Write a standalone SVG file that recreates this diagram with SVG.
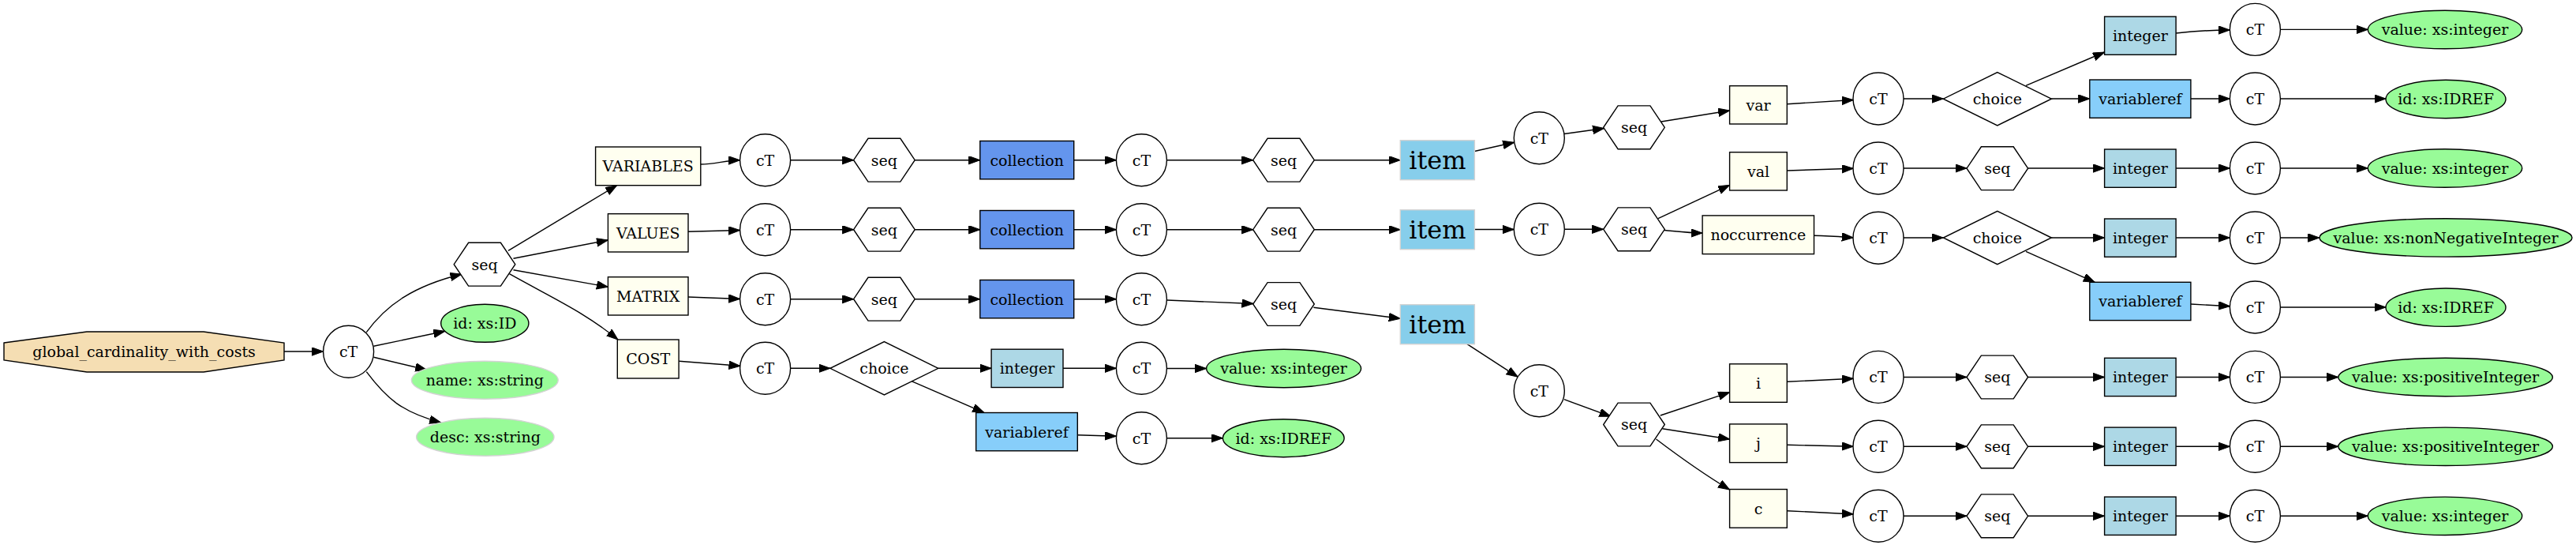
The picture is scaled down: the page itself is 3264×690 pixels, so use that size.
<svg xmlns="http://www.w3.org/2000/svg" xmlns:xlink="http://www.w3.org/1999/xlink" width="3264" height="690" viewBox="0 0 3264 690">
<style>
.sh{stroke:#000;stroke-width:1.4;fill:#fff}
.ct{fill:#fff;stroke:#000;stroke-width:1.4}
.el{fill:#fffff0;stroke:#000;stroke-width:1.4}
.coll{fill:#6495ed;stroke:#000;stroke-width:1.4}
.int{fill:#add8e6;stroke:#000;stroke-width:1.4}
.vref{fill:#87cefa;stroke:#000;stroke-width:1.4}
.item{fill:#87ceeb;stroke:#d3d3d3;stroke-width:1.4}
.att{fill:#98fb98;stroke:#000;stroke-width:1.4}
.att2{fill:#98fb98;stroke:#d3d3d3;stroke-width:1.4}
.root{fill:#f5deb3;stroke:#000;stroke-width:1.4}
text{font-family:"DejaVu Serif","Liberation Serif",serif;font-size:19px;text-anchor:middle;fill:#000}
text.big{font-size:32px}
#edges path{fill:none;stroke:#000;stroke-width:1.4;marker-end:url(#ah)}
</style>
<defs>
<marker id="ah" markerUnits="userSpaceOnUse" markerWidth="16" markerHeight="12" refX="14.5" refY="5.2" orient="auto"><path d="M0,0 L14.5,5.2 L0,10.4 z" fill="#000" stroke="#000" stroke-width="1"/></marker>
<polygon id="hex" points="38.8,0 20.4,-27.4 -20.4,-27.4 -38.8,0 -20.4,27.4 20.4,27.4"/>
<polygon id="dia" points="68.5,0 0,-33.7 -68.5,0 0,33.7"/>
</defs>
<rect width="3264" height="690" fill="#fff"/>

<g id="edges">
<path d="M360,445 L409.6,445"/>
<path d="M464.3,420.7 C490,385 525,362 585,347"/>
<path d="M473.5,438.3 L563.8,419.3"/>
<path d="M473.5,452.3 L540.8,468.3"/>
<path d="M464.3,470.7 C490,505 510,522 558.7,535"/>
<path d="M644,317.3 L781.6,234.7"/>
<path d="M650.5,327.3 L770.4,304"/>
<path d="M650.5,341.7 L770.4,363.3"/>
<path d="M645.4,346.7 C705,380 740,395 783,430"/>
<!-- VARIABLES row -->
<path d="M887.8,208 C905,208 920,203 937.6,202.7"/>
<path d="M1001.6,202.7 L1081.6,202.7"/>
<path d="M1159.2,202.7 L1241.8,202.7"/>
<path d="M1360.7,202.7 L1414.4,202.7"/>
<path d="M1478.4,202.7 L1587.7,202.7"/>
<path d="M1665.3,202.7 L1774.3,202.7"/>
<path d="M1868.4,191.5 L1918.7,180.2"/>
<path d="M1982,169.5 L2032.5,162.5"/>
<path d="M2105,154 L2191.6,140"/>
<path d="M2264.3,131.7 L2348.3,126.5"/>
<path d="M2412,125 L2462.3,125"/>
<path d="M2567,108.3 L2666.6,66"/>
<path d="M2599.3,125 L2647.8,125"/>
<path d="M2757.1,42 C2785,39 2805,38 2825.4,38"/>
<path d="M2889.4,37.4 L3000.3,37.4"/>
<path d="M2775.9,125 L2825.4,125"/>
<path d="M2889.4,125 L3023,125"/>
<!-- VALUES row -->
<path d="M872,293.3 L937.6,291.5"/>
<path d="M1001.6,290.7 L1081.6,290.7"/>
<path d="M1159.2,290.7 L1241.8,290.7"/>
<path d="M1360.7,290.7 L1414.4,290.7"/>
<path d="M1478.4,290.7 L1587.7,290.7"/>
<path d="M1665.3,290.7 L1774.3,290.7"/>
<path d="M1868.4,290.5 L1918.3,290.5"/>
<path d="M1982.3,290.3 L2031.7,290.3"/>
<path d="M2101,276.7 L2191.6,234.3"/>
<path d="M2109,291.5 C2125,293 2140,295 2157.1,295"/>
<path d="M2264.3,216 L2348.3,213.3"/>
<path d="M2412,213 L2492,213"/>
<path d="M2569.6,213 L2666.6,213"/>
<path d="M2757.1,213 L2825.4,213"/>
<path d="M2889.4,213 L3000.3,213"/>
<path d="M2298.5,298.3 C2320,298.5 2335,300 2348.3,301"/>
<path d="M2412,301 L2462.3,301"/>
<path d="M2599.3,301 L2666.6,301"/>
<path d="M2757.1,301 L2825.4,301"/>
<path d="M2889.4,301 L2938.9,301"/>
<path d="M2567,318.3 L2654.3,357.3"/>
<path d="M2775.9,385 L2825.7,387.7"/>
<path d="M2889.4,389 L3023,389"/>
<!-- MATRIX row -->
<path d="M872,376 L937.6,378.5"/>
<path d="M1001.6,378.7 L1081.6,378.7"/>
<path d="M1159.2,378.7 L1241.8,378.7"/>
<path d="M1360.7,378.7 L1414.4,378.7"/>
<path d="M1478.8,380 L1588,384.5"/>
<path d="M1664.4,389.3 L1774.3,403.3"/>
<path d="M1859,435.7 L1923.3,477.3"/>
<path d="M1981.9,505.7 L2041,527.3"/>
<path d="M2103.8,526 L2191.6,496.7"/>
<path d="M2106.4,542.7 L2191.6,556"/>
<path d="M2098.5,556 Q2150,595 2191.6,620"/>
<path d="M2264.3,483.3 L2348.3,479.3"/>
<path d="M2412,477.5 L2492,477.5"/>
<path d="M2569.6,477.5 L2666.6,477.5"/>
<path d="M2757.1,477.5 L2825.4,477.5"/>
<path d="M2889.4,477.5 L2962.8,477.5"/>
<path d="M2264.3,563.3 L2348.3,565.3"/>
<path d="M2412,565.3 L2492,565.3"/>
<path d="M2569.6,565.3 L2666.6,565.3"/>
<path d="M2757.1,565.3 L2825.4,565.3"/>
<path d="M2889.4,565.3 L2962.8,565.3"/>
<path d="M2264.3,646.7 L2348.3,651"/>
<path d="M2412,653.3 L2492,653.3"/>
<path d="M2569.6,653.3 L2666.6,653.3"/>
<path d="M2757.1,653.3 L2825.4,653.3"/>
<path d="M2889.4,653.3 L3000.3,653.3"/>
<!-- COST row -->
<path d="M860.3,457.3 L938,463.3"/>
<path d="M1001.6,466.3 L1052,466.3"/>
<path d="M1188.8,466.3 L1256.1,466.3"/>
<path d="M1347,466.3 L1414.4,466.3"/>
<path d="M1478.4,466.5 L1528.5,466.5"/>
<path d="M1155.1,482.7 L1246.9,522.3"/>
<path d="M1365.3,550.7 L1414.4,552.3"/>
<path d="M1478.4,554.7 L1549.4,554.7"/>
</g>

<g id="n_root"><polygon class="root" points="5,434 110,420 258,420 360,434 360,456 258,471 110,471 5,456"/><text x="182.5" y="452">global_cardinality_with_costs</text></g>
<g id="n_ct0"><ellipse class="ct" cx="441.6" cy="445.3" rx="32" ry="33"/><text x="441.6" y="452">cT</text></g>
<g id="n_seq0"><use href="#hex" xlink:href="#hex" class="sh" x="614" y="334.7"/><text x="614" y="341.5">seq</text></g>
<g id="n_id0"><ellipse class="att" cx="614.3" cy="409.3" rx="55.6" ry="24"/><text x="614.3" y="416">id: xs:ID</text></g>
<g id="n_name0"><ellipse class="att2" cx="614.3" cy="481.3" rx="92.9" ry="24"/><text x="614.3" y="488">name: xs:string</text></g>
<g id="n_desc0"><ellipse class="att2" cx="614.8" cy="553.3" rx="87.2" ry="24"/><text x="614.8" y="560">desc: xs:string</text></g>

<g id="n_variables"><rect class="el" x="754.6" y="186" width="133.2" height="48.7"/><text x="821.2" y="217">VARIABLES</text></g>
<g id="n_values"><rect class="el" x="770.4" y="270.7" width="101.6" height="48.3"/><text x="821.2" y="301.5">VALUES</text></g>
<g id="n_matrix"><rect class="el" x="770.4" y="350.7" width="101.6" height="48.3"/><text x="821.2" y="381.5">MATRIX</text></g>
<g id="n_cost"><rect class="el" x="782.3" y="430" width="77.8" height="49"/><text x="821.2" y="461.3">COST</text></g>

<g id="n_ct_var1"><ellipse class="ct" cx="969.6" cy="202.7" rx="32" ry="33"/><text x="969.6" y="209.5">cT</text></g>
<g id="n_ct_val1"><ellipse class="ct" cx="969.6" cy="290.7" rx="32" ry="33"/><text x="969.6" y="297.5">cT</text></g>
<g id="n_ct_mat1"><ellipse class="ct" cx="969.6" cy="378.7" rx="32" ry="33"/><text x="969.6" y="385.5">cT</text></g>
<g id="n_ct_cost1"><ellipse class="ct" cx="969.6" cy="466.3" rx="32" ry="33"/><text x="969.6" y="473">cT</text></g>

<g id="n_seq_var1"><use href="#hex" xlink:href="#hex" class="sh" x="1120.4" y="202.7"/><text x="1120.4" y="209.5">seq</text></g>
<g id="n_seq_val1"><use href="#hex" xlink:href="#hex" class="sh" x="1120.4" y="290.7"/><text x="1120.4" y="297.5">seq</text></g>
<g id="n_seq_mat1"><use href="#hex" xlink:href="#hex" class="sh" x="1120.4" y="378.7"/><text x="1120.4" y="385.5">seq</text></g>
<g id="n_choice_cost"><use href="#dia" xlink:href="#dia" class="sh" x="1120.4" y="466.3"/><text x="1120.4" y="473">choice</text></g>

<g id="n_coll_var"><rect class="coll" x="1241.8" y="178.5" width="118.9" height="48.3"/><text x="1301.2" y="209.5">collection</text></g>
<g id="n_coll_val"><rect class="coll" x="1241.8" y="266.5" width="118.9" height="48.3"/><text x="1301.2" y="297.5">collection</text></g>
<g id="n_coll_mat"><rect class="coll" x="1241.8" y="354.5" width="118.9" height="48.3"/><text x="1301.2" y="385.5">collection</text></g>
<g id="n_int_cost"><rect class="int" x="1256.1" y="442.2" width="90.9" height="48.3"/><text x="1301.5" y="473">integer</text></g>
<g id="n_vref_cost"><rect class="vref" x="1236.7" y="522.5" width="128.6" height="48.3"/><text x="1301" y="553.5">variableref</text></g>

<g id="n_ct_var2"><ellipse class="ct" cx="1446.4" cy="202.7" rx="32" ry="33"/><text x="1446.4" y="209.5">cT</text></g>
<g id="n_ct_val2"><ellipse class="ct" cx="1446.4" cy="290.7" rx="32" ry="33"/><text x="1446.4" y="297.5">cT</text></g>
<g id="n_ct_mat2"><ellipse class="ct" cx="1446.4" cy="378.7" rx="32" ry="33"/><text x="1446.4" y="385.5">cT</text></g>
<g id="n_ct_cost2"><ellipse class="ct" cx="1446.4" cy="466.3" rx="32" ry="33"/><text x="1446.4" y="473">cT</text></g>
<g id="n_ct_cost3"><ellipse class="ct" cx="1446.4" cy="554.7" rx="32" ry="33"/><text x="1446.4" y="561.5">cT</text></g>

<g id="n_seq_var2"><use href="#hex" xlink:href="#hex" class="sh" x="1626.5" y="202.7"/><text x="1626.5" y="209.5">seq</text></g>
<g id="n_seq_val2"><use href="#hex" xlink:href="#hex" class="sh" x="1626.5" y="290.7"/><text x="1626.5" y="297.5">seq</text></g>
<g id="n_seq_mat2"><use href="#hex" xlink:href="#hex" class="sh" x="1626.5" y="385"/><text x="1626.5" y="391.8">seq</text></g>
<g id="n_value_cost"><ellipse class="att" cx="1626.6" cy="466.5" rx="98" ry="24.2"/><text x="1626.6" y="473.3">value: xs:integer</text></g>
<g id="n_idref_cost"><ellipse class="att" cx="1626.3" cy="554.7" rx="76.9" ry="24"/><text x="1626.3" y="561.5">id: xs:IDREF</text></g>

<g id="n_item_var"><rect class="item" x="1774.3" y="177.7" width="94.1" height="50"/><text class="big" x="1821.4" y="214">item</text></g>
<g id="n_item_val"><rect class="item" x="1774.3" y="265.7" width="94.1" height="50"/><text class="big" x="1821.4" y="302">item</text></g>
<g id="n_item_mat"><rect class="item" x="1774.3" y="385.7" width="94.1" height="50"/><text class="big" x="1821.4" y="422">item</text></g>

<g id="n_ct_var3"><ellipse class="ct" cx="1950.3" cy="174.7" rx="32" ry="33"/><text x="1950.3" y="181.5">cT</text></g>
<g id="n_ct_val3"><ellipse class="ct" cx="1950.3" cy="290.3" rx="32" ry="33"/><text x="1950.3" y="297">cT</text></g>
<g id="n_ct_mat3"><ellipse class="ct" cx="1950.3" cy="494.7" rx="32" ry="33"/><text x="1950.3" y="501.5">cT</text></g>

<g id="n_seq_var3"><use href="#hex" xlink:href="#hex" class="sh" x="2070.5" y="161.3"/><text x="2070.5" y="168">seq</text></g>
<g id="n_seq_val3"><use href="#hex" xlink:href="#hex" class="sh" x="2070.5" y="290.3"/><text x="2070.5" y="297">seq</text></g>
<g id="n_seq_mat3"><use href="#hex" xlink:href="#hex" class="sh" x="2070.5" y="537.5"/><text x="2070.5" y="544.3">seq</text></g>

<g id="n_var"><rect class="el" x="2191.6" y="108.7" width="72.7" height="48.3"/><text x="2228" y="139.6">var</text></g>
<g id="n_val"><rect class="el" x="2191.6" y="192.7" width="72.7" height="48.3"/><text x="2228" y="223.6">val</text></g>
<g id="n_nocc"><rect class="el" x="2157.1" y="272.9" width="141.4" height="48.7"/><text x="2227.8" y="304">noccurrence</text></g>
<g id="n_i"><rect class="el" x="2191.6" y="460.8" width="72.7" height="48.5"/><text x="2228" y="491.8">i</text></g>
<g id="n_j"><rect class="el" x="2191.6" y="536.9" width="72.7" height="48.7"/><text x="2228" y="568">j</text></g>
<g id="n_c"><rect class="el" x="2191.6" y="619.5" width="72.7" height="48.7"/><text x="2228" y="650.6">c</text></g>

<g id="n_ct_var4"><ellipse class="ct" cx="2380" cy="125" rx="32" ry="33"/><text x="2380" y="131.8">cT</text></g>
<g id="n_ct_val4"><ellipse class="ct" cx="2380" cy="213" rx="32" ry="33"/><text x="2380" y="219.8">cT</text></g>
<g id="n_ct_nocc4"><ellipse class="ct" cx="2380" cy="301.2" rx="32" ry="33"/><text x="2380" y="308">cT</text></g>
<g id="n_ct_i4"><ellipse class="ct" cx="2380" cy="477.4" rx="32" ry="33"/><text x="2380" y="484.2">cT</text></g>
<g id="n_ct_j4"><ellipse class="ct" cx="2380" cy="565.3" rx="32" ry="33"/><text x="2380" y="572.1">cT</text></g>
<g id="n_ct_c4"><ellipse class="ct" cx="2380" cy="653.3" rx="32" ry="33"/><text x="2380" y="660.1">cT</text></g>

<g id="n_choice_var"><use href="#dia" xlink:href="#dia" class="sh" x="2530.8" y="125.2"/><text x="2530.8" y="132">choice</text></g>
<g id="n_seq_val5"><use href="#hex" xlink:href="#hex" class="sh" x="2530.8" y="213.2"/><text x="2530.8" y="220">seq</text></g>
<g id="n_choice_nocc"><use href="#dia" xlink:href="#dia" class="sh" x="2530.8" y="301"/><text x="2530.8" y="307.8">choice</text></g>
<g id="n_seq_i5"><use href="#hex" xlink:href="#hex" class="sh" x="2530.8" y="477.5"/><text x="2530.8" y="484.3">seq</text></g>
<g id="n_seq_j5"><use href="#hex" xlink:href="#hex" class="sh" x="2530.8" y="565.3"/><text x="2530.8" y="572.1">seq</text></g>
<g id="n_seq_c5"><use href="#hex" xlink:href="#hex" class="sh" x="2530.8" y="653.3"/><text x="2530.8" y="660.1">seq</text></g>

<g id="n_int_var"><rect class="int" x="2666.6" y="21" width="90.5" height="48.3"/><text x="2711.9" y="52">integer</text></g>
<g id="n_vref_var"><rect class="vref" x="2647.8" y="101" width="128.1" height="48.3"/><text x="2711.9" y="132">variableref</text></g>
<g id="n_int_val"><rect class="int" x="2666.6" y="189" width="90.5" height="48.3"/><text x="2711.9" y="220">integer</text></g>
<g id="n_int_nocc"><rect class="int" x="2666.6" y="277" width="90.5" height="48.3"/><text x="2711.9" y="308">integer</text></g>
<g id="n_vref_nocc"><rect class="vref" x="2647.8" y="357.3" width="128.1" height="48.3"/><text x="2711.9" y="388.3">variableref</text></g>
<g id="n_int_i"><rect class="int" x="2666.6" y="453.3" width="90.5" height="48.3"/><text x="2711.9" y="484.3">integer</text></g>
<g id="n_int_j"><rect class="int" x="2666.6" y="541.1" width="90.5" height="48.3"/><text x="2711.9" y="572.1">integer</text></g>
<g id="n_int_c"><rect class="int" x="2666.6" y="629.1" width="90.5" height="48.3"/><text x="2711.9" y="660.1">integer</text></g>

<g id="n_ct_var6a"><ellipse class="ct" cx="2857.4" cy="37.4" rx="32" ry="33"/><text x="2857.4" y="44.2">cT</text></g>
<g id="n_ct_var6b"><ellipse class="ct" cx="2857.4" cy="125" rx="32" ry="33"/><text x="2857.4" y="131.8">cT</text></g>
<g id="n_ct_val6"><ellipse class="ct" cx="2857.4" cy="213" rx="32" ry="33"/><text x="2857.4" y="219.8">cT</text></g>
<g id="n_ct_nocc6a"><ellipse class="ct" cx="2857.4" cy="301" rx="32" ry="33"/><text x="2857.4" y="307.8">cT</text></g>
<g id="n_ct_nocc6b"><ellipse class="ct" cx="2857.4" cy="389" rx="32" ry="33"/><text x="2857.4" y="395.8">cT</text></g>
<g id="n_ct_i6"><ellipse class="ct" cx="2857.4" cy="477.4" rx="32" ry="33"/><text x="2857.4" y="484.2">cT</text></g>
<g id="n_ct_j6"><ellipse class="ct" cx="2857.4" cy="565.3" rx="32" ry="33"/><text x="2857.4" y="572.1">cT</text></g>
<g id="n_ct_c6"><ellipse class="ct" cx="2857.4" cy="653.3" rx="32" ry="33"/><text x="2857.4" y="660.1">cT</text></g>

<g id="n_value_var"><ellipse class="att" cx="3098" cy="37.5" rx="97.7" ry="24.2"/><text x="3098" y="44.3">value: xs:integer</text></g>
<g id="n_idref_var"><ellipse class="att" cx="3099" cy="125.5" rx="76" ry="24.2"/><text x="3099" y="132.3">id: xs:IDREF</text></g>
<g id="n_value_val"><ellipse class="att" cx="3098" cy="213" rx="97.7" ry="24.2"/><text x="3098" y="219.8">value: xs:integer</text></g>
<g id="n_value_nocc"><ellipse class="att" cx="3099" cy="300.9" rx="160" ry="24.2"/><text x="3099" y="307.7">value: xs:nonNegativeInteger</text></g>
<g id="n_idref_nocc"><ellipse class="att" cx="3099" cy="389.2" rx="76" ry="24.2"/><text x="3099" y="396">id: xs:IDREF</text></g>
<g id="n_value_i"><ellipse class="att" cx="3098.6" cy="477.5" rx="135.8" ry="24.2"/><text x="3098.6" y="484.3">value: xs:positiveInteger</text></g>
<g id="n_value_j"><ellipse class="att" cx="3098.6" cy="565.3" rx="135.8" ry="24.2"/><text x="3098.6" y="572.1">value: xs:positiveInteger</text></g>
<g id="n_value_c"><ellipse class="att" cx="3098" cy="653.3" rx="97.7" ry="24.2"/><text x="3098" y="660.1">value: xs:integer</text></g>
</svg>
